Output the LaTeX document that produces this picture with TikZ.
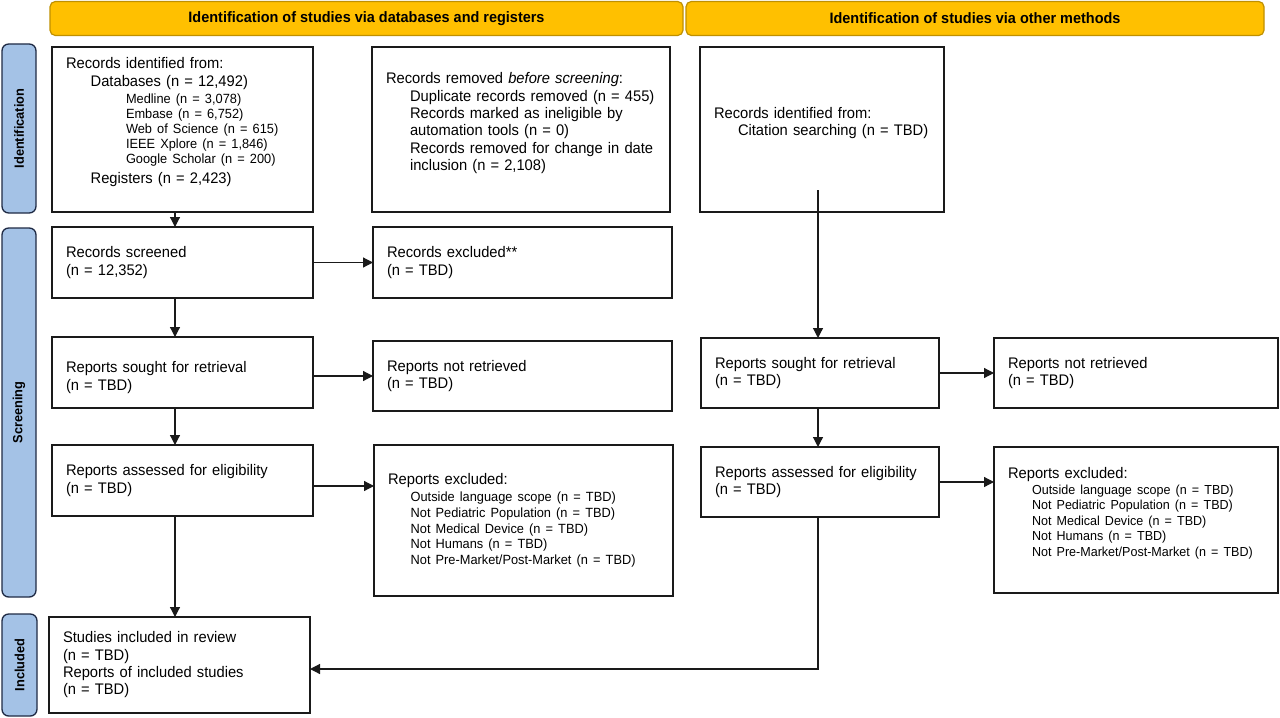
\documentclass[tikz,border=0pt]{standalone}
\usepackage{fontspec}
\setmainfont[FakeStretch=0.96]{Liberation Sans}
\usetikzlibrary{arrows.meta,calc}
\definecolor{hdrfill}{HTML}{FFC000}
\definecolor{hdrdraw}{HTML}{BF9000}
\definecolor{sidefill}{HTML}{A4C2E6}
\definecolor{sidedraw}{HTML}{1F2A44}
\definecolor{boxline}{HTML}{1A1A1A}
\newcommand\pfbox[7][]{%
  \pgfmathsetmacro\pfW{(#5-#3)*0.75}%
  \pgfmathsetmacro\pfH{(#6-#4)*0.75}%
  \pgfmathsetmacro\pfT{(#5-#3)*0.75-21}%
  \node[box,minimum width=\pfW pt,minimum height=\pfH pt,text width=\pfT pt,#1] (#2) at ({(#3+#5)/2},{(#4+#6)/2}) {\rightskip=-12pt plus 1fil\relax #7};}
\newcommand\lowpad[1]{\rule[-#1]{0pt}{0pt}}
\begin{document}
\begin{tikzpicture}[x=0.75pt,y=-0.75pt,
  box/.style={draw=boxline, line width=1.4pt, inner xsep=10.5pt, inner ysep=0pt, outer sep=0pt, align=left, font=\fontsize{11.5}{13}\selectfont},
  hdr/.style={draw=hdrdraw, fill=hdrfill, line width=0.9pt, rounded corners=4pt, inner sep=0pt, outer sep=0pt, font=\fontsize{11.3}{13}\selectfont\bfseries},
  side/.style={draw=sidedraw, fill=sidefill, line width=1pt, rounded corners=5pt, inner sep=0pt, outer sep=0pt, rotate=90, font=\fontsize{10}{12}\selectfont\bfseries},
  arr/.style={draw=boxline, line width=0.9pt, -{Triangle[length=7.5pt,width=7.5pt]}}]
\useasboundingbox (0,0) rectangle (1280,717);

% headers
\node[hdr, minimum width=474.75pt, minimum height=25.5pt] (h1) at (366.5,18.5) {Identification of studies via databases and registers};
\node[hdr, minimum width=433.5pt, minimum height=25.5pt] (h2) at (975,18.5) {Identification of studies via other methods};

% side bars
\node[side, minimum width=126.75pt, minimum height=25.5pt] (s1) at (19,128.5) {Identification};
\node[side, minimum width=276.75pt, minimum height=25.5pt] (s2) at (19,412.5) {Screening};
\node[side, minimum width=76.5pt, minimum height=26.25pt] (s3) at (19.5,665) {Included};

% boxes, left column
\pfbox{A}{52}{47}{313}{212}{Records identified from:\par
\hspace*{18.5pt}Databases (n = 12,492)\par\vspace{2pt}
{\fontsize{10}{11.25}\selectfont\leftskip=45pt Medline (n = 3,078)\\Embase (n = 6,752)\\Web of Science (n = 615)\\IEEE Xplore (n = 1,846)\\Google Scholar (n = 200)\par}\vspace{1.5pt}
\hspace*{18.5pt}Registers (n = 2,423)\lowpad{13.5pt}}
\pfbox{B}{372}{47}{670}{212}{Records removed \textit{before screening}:\par
{\leftskip=18pt Duplicate records removed (n = 455)\\Records marked as ineligible by\\automation tools (n = 0)\\Records removed for change in date\\inclusion (n = 2,108)\lowpad{12pt}\par}}
\pfbox{C}{700}{47}{944}{212}{Records identified from:\par
{\leftskip=18pt Citation searching (n = TBD)\lowpad{12pt}\par}}

\pfbox{D}{52}{227}{313}{298}{Records screened\\(n = 12,352)}
\pfbox{E}{373}{227}{672}{298}{Records excluded**\\(n = TBD)}
\pfbox{F}{52}{337}{313}{408}{\rule{0pt}{16pt}Reports sought for retrieval\\(n = TBD)}
\pfbox{G}{373}{341}{672}{411}{Reports not retrieved\\(n = TBD)}
\pfbox{H}{52}{445}{313}{516}{Reports assessed for eligibility\\(n = TBD)}
\pfbox{I}{374}{445}{673}{596}{Reports excluded:\par\vspace{1pt}
{\fontsize{10}{11.75}\selectfont\leftskip=17pt Outside language scope (n = TBD)\\Not Pediatric Population (n = TBD)\\Not Medical Device (n = TBD)\\Not Humans (n = TBD)\\Not Pre-Market/Post-Market (n = TBD)\par}}
\pfbox[inner xsep=9.75pt]{J}{49}{617}{310}{713}{Studies included in review\\(n = TBD)\\Reports of included studies\\(n = TBD)}

% boxes, right column
\pfbox{K}{701}{338}{939}{408}{Reports sought for retrieval\\(n = TBD)}
\pfbox{L}{994}{338}{1278}{408}{Reports not retrieved\\(n = TBD)}
\pfbox{M}{701}{447}{939}{517}{Reports assessed for eligibility\\(n = TBD)}
\pfbox{N}{994}{447}{1278}{593}{Reports excluded:\par
{\fontsize{9.8}{11.6}\selectfont\leftskip=18pt Outside language scope (n = TBD)\\Not Pediatric Population (n = TBD)\\Not Medical Device (n = TBD)\\Not Humans (n = TBD)\\Not Pre-Market/Post-Market (n = TBD)\lowpad{12pt}\par}}

% helper coordinates
\coordinate (colL) at (175,0);
\coordinate (colR) at (818,0);
\coordinate (hiy) at (0,486);
\coordinate (jy) at (0,669);

% connectors
\draw[arr] (A.south -| colL) -- (D.north -| colL);
\draw[arr] (D.south -| colL) -- (F.north -| colL);
\draw[arr] (F.south -| colL) -- (H.north -| colL);
\draw[arr] (H.south -| colL) -- (J.north -| colL);
\draw[arr] (D.east) -- (D.east -| E.west);
\draw[arr] (G.west -| F.east) -- (G.west);
\draw[arr] (H.east |- hiy) -- (I.west |- hiy);

\draw[arr] ($(C.south -| colR)+(0,-22)$) -- (K.north -| colR);
\draw[arr] (K.east) -- (K.east -| L.west);
\draw[arr] (K.south -| colR) -- (M.north -| colR);
\draw[arr] (M.east) -- (M.east -| N.west);
\draw[arr] (M.south -| colR) |- (J.east |- jy);
\end{tikzpicture}
\end{document}
